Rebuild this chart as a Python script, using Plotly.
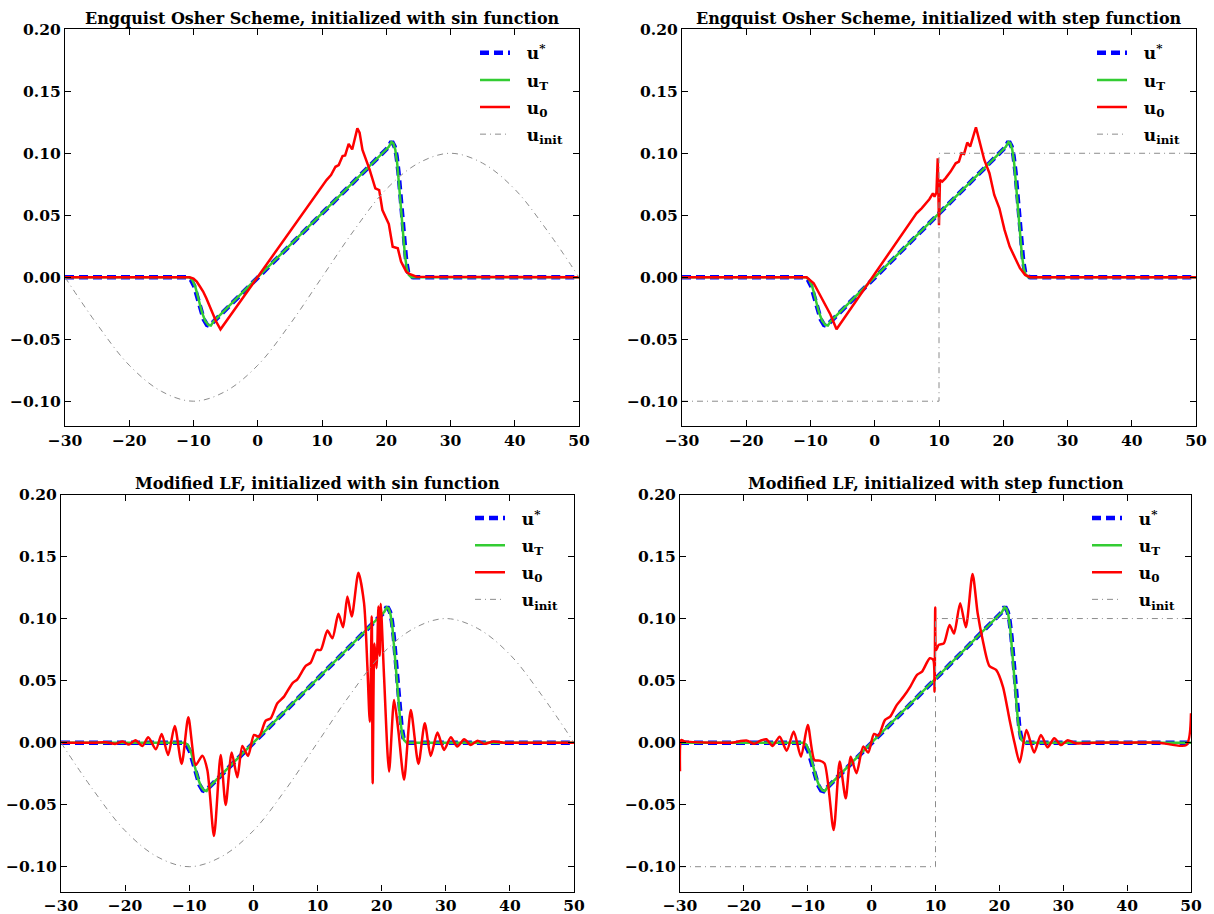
import plotly.graph_objects as go

# ---------------- data ----------------
# target solution u* (same in all panels)
x_star = [-30, -10.9, -10.4, -9.9, -9.4, -8.9, -8.4, -7.9, -7.5, -7.1, 0, 20.3, 20.7, 21.0,
          21.3, 21.6, 21.9, 22.2, 22.5, 22.8, 23.1, 23.4, 23.8, 24.2, 50]
u_star = [0, 0, -0.002, -0.007, -0.016, -0.026, -0.034, -0.0385, -0.0392, -0.0370, 0, 0.1047,
          0.1085, 0.1085, 0.1055, 0.098, 0.085, 0.067, 0.047, 0.028, 0.013, 0.004, 0.0005, 0, 0]

# final state u_T (same in all panels)
x_T = [-30, -10.7, -10.2, -9.7, -9.2, -8.7, -8.2, -7.7, -7.3, -6.9, 0, 20.4, 20.8, 21.1,
       21.4, 21.7, 22.0, 22.3, 22.6, 22.9, 23.2, 23.5, 23.9, 50]
u_T = [0, 0, -0.002, -0.008, -0.018, -0.028, -0.035, -0.0385, -0.0390, -0.0358, 0, 0.1052,
       0.1090, 0.1080, 0.103, 0.092, 0.074, 0.054, 0.034, 0.018, 0.007, 0.002, 0, 0]

# initial guesses u_0
x_eo_sin = [-30, -10.6, -10.0, -9.5, -9.0, -8.5, -8.0, -7.5, -7.0, -6.5, -5.8, 10.7, 11.4,
            12.1, 12.6, 13.2, 13.6, 14.15, 14.7, 15.5, 15.85, 16.3, 17.4, 18.3, 18.9, 19.4,
            20.4, 21.0, 21.8, 22.3, 23.1, 23.6, 24.7, 50]
u0_eo_sin = [0, 0, -0.001, -0.0035, -0.0075, -0.0115, -0.017, -0.023, -0.029, -0.0355, -0.042,
             0.0784, 0.0824, 0.0891, 0.0905, 0.0978, 0.0983, 0.1075, 0.1031, 0.1201, 0.1166,
             0.1026, 0.0870, 0.0717, 0.0703, 0.0542, 0.0429, 0.0246, 0.0233, 0.0126, 0.0045,
             0.0026, 0.0004, 0]

x_eo_step = [-30, -10.6, -9.5, -8.2, -6.9, -5.95, 6.5, 7.3, 8.0, 8.5, 9.05, 9.3, 9.6, 9.8,
             10.0, 10.15, 10.5, 11.0, 11.8, 12.6, 13.1, 13.5, 13.9, 14.4, 14.85, 15.25, 15.75,
             16.25, 17.05, 17.85, 18.6, 19.4, 20.2, 21.0, 21.8, 22.6, 23.4, 24.2, 50]
u0_eo_step = [0, 0, -0.0048, -0.017, -0.030, -0.042, 0.0516, 0.0556, 0.0597, 0.0629, 0.0677,
              0.065, 0.0683, 0.096, 0.042, 0.0785, 0.0772, 0.0798, 0.0852, 0.0919, 0.0933,
              0.100, 0.0995, 0.1086, 0.1054, 0.1134, 0.121, 0.1108, 0.0946, 0.0839, 0.0664,
              0.0556, 0.0382, 0.0247, 0.0153, 0.0073, 0.0019, 0, 0]

x_lf_sin = [-30, -25, -23, -21.5, -20.4, -19.4, -18.4, -17.3, -16.4, -15.2, -14.3, -13.3,
            -12.27, -11.18, -10.14, -9.0, -7.96, -7.18, -6.14, -5.1, -4.32, -3.38, -2.5, -1.72,
            -0.83, 0.1, 0.88, 1.92, 2.7, 3.74, 4.78, 6.08, 6.86, 8.16, 8.94, 9.83, 10.5, 11.54,
            12.32, 13.26, 13.99, 14.66, 15.34, 16.38, 17.26, 17.78, 18.15, 18.46, 18.6, 18.88,
            19.2, 19.5, 19.7, 19.86, 20.38, 21.16, 21.94, 22.6, 23.5, 24.55, 25.74, 26.73,
            27.66, 28.7, 29.74, 30.79, 31.8, 32.87, 33.9, 34.95, 36.0, 37.3, 39, 50]
u0_lf_sin = [0, 0, 0.0003, -0.001, 0.001, -0.0016, 0.002, -0.0027, 0.0043, -0.0054, 0.007,
             -0.010, 0.0134, -0.0172, 0.0204, -0.018, -0.0105, -0.022, -0.0753, -0.0099,
             -0.0503, -0.008, -0.028, -0.0027, -0.0108, 0.0062, 0.0048, 0.0177, 0.0196, 0.0317,
             0.0371, 0.0478, 0.051, 0.0618, 0.0645, 0.0747, 0.0747, 0.0903, 0.0841, 0.1038,
             0.093, 0.1177, 0.1016, 0.137, 0.1124, 0.0613, 0.0169, 0.1016, -0.0328, 0.080,
             0.060, 0.1097, 0.070, 0.112, 0.053, -0.0234, 0.0344, 0.010, -0.030, 0.0263,
             -0.0172, 0.0156, -0.0108, 0.0081, -0.0059, 0.0043, -0.0032, 0.0027, -0.0019,
             0.0016, -0.001, 0.0008, 0, 0]

x_lf_step = [-30, -29.8, -29.3, -25, -22, -19.5, -18.4, -17.4, -16.5, -15.5, -14.4, -13.3,
             -12.2, -11.06, -10.0, -8.96, -8.17, -7.38, -5.95, -5.0, -4.06, -3.27, -2.37, -1.32,
             -0.53, 0.37, 1.05, 2.1, 2.9, 3.95, 5.0, 6.06, 7.11, 7.9, 9.1, 9.64, 9.85, 9.96,
             10.1, 10.5, 11.3, 12.2, 12.9, 13.86, 14.75, 15.8, 16.6, 17.39, 18.44, 19.49, 20.55,
             21.6, 22.39, 23.18, 24.24, 25.45, 26.5, 27.56, 28.6, 29.66, 30.7, 31.9, 35, 40, 45,
             49.26, 50]
u0_lf_step = [-0.023, 0.002, 0.001, 0, 0, 0.0016, -0.001, 0.0016, 0.0027, -0.0027, 0.0048,
              -0.0065, 0.0089, -0.0113, 0.0142, -0.014, -0.0145, -0.0167, -0.0704, -0.0153,
              -0.0449, -0.0113, -0.0247, -0.0032, -0.008, 0.007, 0.0056, 0.0183, 0.021, 0.0304,
              0.0371, 0.0452, 0.0546, 0.0573, 0.068, 0.0667, 0.0411, 0.109, 0.0747, 0.0788,
              0.080, 0.0949, 0.088, 0.1124, 0.093, 0.136, 0.1043, 0.0828, 0.0618, 0.0586, 0.0452,
              0.0183, -0.0005, -0.016, 0.0102, -0.008, 0.0062, -0.0038, 0.0035, -0.002, 0.002,
              -0.0005, 0, 0, 0, -0.002, 0.0237]

# initial conditions u_init
x_init_sin = [-30, -25, -20, -15, -10, -5, 0, 5, 10, 15, 20, 25, 30, 35, 40, 45, 50]
u_init_sin = [0, -0.038, -0.071, -0.092, -0.100, -0.092, -0.071, -0.038, 0, 0.038, 0.071,
              0.092, 0.100, 0.092, 0.071, 0.038, 0]
x_init_step = [-30, 10, 10, 50]
u_init_step = [-0.1, -0.1, 0.1, 0.1]

titles = ["Engquist Osher Scheme, initialized with sin function",
          "Engquist Osher Scheme, initialized with step function",
          "Modified LF, initialized with sin function",
          "Modified LF, initialized with step function"]

legend_names = ["u<sup>*</sup>", "u<sub>T</sub>", "u<sub>0</sub>", "u<sub>init</sub>"]

x_ticks = [-30, -20, -10, 0, 10, 20, 30, 40, 50]
y_ticks = [-0.10, -0.05, 0.00, 0.05, 0.10, 0.15, 0.20]
y_tick_text = ["−0.10", "−0.05", "0.00", "0.05", "0.10", "0.15", "0.20"]

# ---------------- figure ----------------
W, H = 1214, 914
SERIF = "DejaVu Serif"
PAD = "\u00a0\u00a0"

panels = [
    dict(x0=x_eo_sin, u0=u0_eo_sin, xi=x_init_sin, ui=u_init_sin, spline=False,
         px=(65, 579), py=(29.3, 426)),
    dict(x0=x_eo_step, u0=u0_eo_step, xi=x_init_step, ui=u_init_step, spline=False,
         px=(682, 1196), py=(29.3, 426)),
    dict(x0=x_lf_sin, u0=u0_lf_sin, xi=x_init_sin, ui=u_init_sin, spline=True,
         px=(61, 574), py=(494.5, 891.5)),
    dict(x0=x_lf_step, u0=u0_lf_step, xi=x_init_step, ui=u_init_step, spline=True,
         px=(680, 1191), py=(494.5, 891.5)),
]

fig = go.Figure()
for i, p in enumerate(panels):
    n = "" if i == 0 else str(i + 1)
    xa, ya, lg = "x" + n, "y" + n, "legend" + n
    init_shape = "spline" if p["xi"] is x_init_sin else "linear"
    fig.add_trace(go.Scatter(x=x_star, y=u_star, mode="lines", name=PAD + legend_names[0],
                             line=dict(color="#0000ff", width=4.5, dash="9px,5px"),
                             xaxis=xa, yaxis=ya, legend=lg, legendgroup=f"a{i}"))
    fig.add_trace(go.Scatter(x=x_T, y=u_T, mode="lines", name=PAD + legend_names[1],
                             line=dict(color="#33cc33", width=2.5),
                             xaxis=xa, yaxis=ya, legend=lg, legendgroup=f"b{i}"))
    fig.add_trace(go.Scatter(x=p["x0"], y=p["u0"], mode="lines", name=PAD + legend_names[2],
                             line=dict(color="#ff0000", width=2.5,
                                       shape="spline" if p["spline"] else "linear",
                                       smoothing=0.7),
                             xaxis=xa, yaxis=ya, legend=lg, legendgroup=f"c{i}"))
    fig.add_trace(go.Scatter(x=p["xi"], y=p["ui"], mode="lines", name=PAD + legend_names[3],
                             line=dict(color="#8c8c8c", width=1, dash="6px,4px,1px,4px",
                                       shape=init_shape, smoothing=1),
                             xaxis=xa, yaxis=ya, legend=lg, legendgroup=f"d{i}"))

    x0p, x1p = p["px"]
    y0p, y1p = p["py"]
    common = dict(showline=True, linecolor="black", linewidth=1.3, mirror="ticks",
                  ticks="inside", ticklen=6, tickwidth=1, tickcolor="black",
                  showgrid=False, zeroline=False, automargin=False,
                  tickfont=dict(family=SERIF, size=15.5, color="black", weight="bold"))
    fig.layout["xaxis" + n] = dict(domain=[x0p / W, x1p / W], range=[-30, 50],
                                   anchor=ya, tickvals=x_ticks,
                                   ticktext=[("−" + str(-t)) if t < 0 else str(t) for t in x_ticks],
                                   **common)
    fig.layout["yaxis" + n] = dict(domain=[1 - y1p / H, 1 - y0p / H], range=[-0.12, 0.2],
                                   anchor=xa, tickvals=y_ticks, ticktext=y_tick_text, **common)
    fig.layout[lg] = dict(x=(x1p - 104) / W, y=1 - (y0p + 6) / H, xanchor="left", yanchor="top",
                          bgcolor="rgba(0,0,0,0)", borderwidth=0, tracegroupgap=2,
                          font=dict(family=SERIF, size=17, color="black", weight="bold"))
    fig.add_annotation(text=titles[i], x=(x0p + x1p) / 2 / W, y=1 - (y0p - 11) / H,
                       xref="paper", yref="paper", showarrow=False, xanchor="center",
                       yanchor="middle",
                       font=dict(family=SERIF, size=16, color="black", weight="bold"))

fig.update_layout(width=W, height=H, margin=dict(l=0, r=0, t=0, b=0, autoexpand=False),
                  paper_bgcolor="white", plot_bgcolor="white", showlegend=True)

fig.write_html("out.html")
